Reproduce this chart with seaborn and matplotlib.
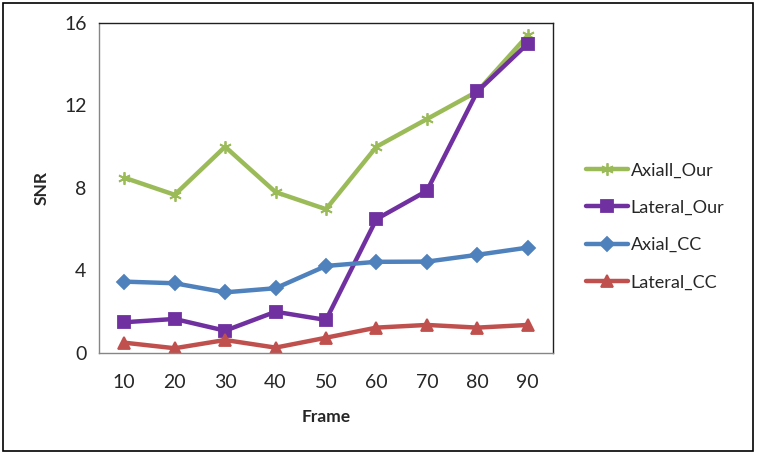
import matplotlib
matplotlib.use("Agg")
import matplotlib.pyplot as plt
import seaborn as sns
import numpy as np
import pandas as pd

sns.set_theme(style="white")
plt.rcParams["font.family"] = ["Lato", "DejaVu Sans"]

frames = [10, 20, 30, 40, 50, 60, 70, 80, 90]
axiall_our = [8.5, 7.67, 10.0, 7.8, 6.97, 10.0, 11.34, 12.68, 15.4]
lateral_our = [1.49, 1.65, 1.08, 2.0, 1.6, 6.49, 7.86, 12.68, 15.0]
axial_cc = [3.46, 3.38, 2.94, 3.14, 4.22, 4.42, 4.43, 4.76, 5.11]
lateral_cc = [0.5, 0.23, 0.63, 0.26, 0.74, 1.23, 1.36, 1.23, 1.36]

series = [
    ("Axiall_Our", axiall_our, "#9BBB59", (6, 2, 0), 9),
    ("Lateral_Our", lateral_our, "#7030A0", "s", 9),
    ("Axial_CC", axial_cc, "#4F81BD", "D", 7),
    ("Lateral_CC", lateral_cc, "#C0504D", "^", 9),
]

fig = plt.figure(figsize=(7.57, 4.54), dpi=100)
ax = fig.add_axes([0.1308, 0.2225, 0.5997, 0.7269])

pos = np.arange(len(frames))
for name, vals, col, mk, ms in series:
    df = pd.DataFrame({"pos": pos, "snr": vals})
    sns.lineplot(data=df, x="pos", y="snr", ax=ax, color=col, linewidth=3.2,
                 marker=mk, markersize=ms, markeredgecolor=col,
                 markeredgewidth=1.3, label=name)

ax.set_xlim(-0.5, len(frames) - 0.5)
ax.set_ylim(0, 16)
ax.set_yticks([0, 4, 8, 12, 16])
ax.set_xticks(np.arange(-0.5, len(frames), 1.0))
ax.set_xticklabels([])
ax.set_xticks(pos, minor=True)
ax.set_xticklabels([str(f) for f in frames], minor=True)
ax.tick_params(axis="x", which="major", direction="out", length=6, color="#868686", width=1)
ax.tick_params(axis="x", which="minor", length=0, pad=15, labelsize=14)
ax.tick_params(axis="y", direction="out", length=5, color="#868686", width=1, labelsize=14, pad=4)

for s in ["left", "bottom"]:
    ax.spines[s].set_color("#868686")
for s in ["top", "right"]:
    ax.spines[s].set_color("#202020")
for s in ax.spines.values():
    s.set_linewidth(1.0)

ax.set_xlabel("Frame", fontsize=12.5, fontweight="bold", labelpad=13)
ax.set_ylabel("SNR", fontsize=12.5, fontweight="bold", labelpad=10)

handles, labels = ax.get_legend_handles_labels()
ax.legend_.remove()
fig.legend(handles, labels, loc="upper left", bbox_to_anchor=(0.753, 0.678),
           frameon=False, fontsize=13, labelspacing=1.18, handlelength=2.3,
           handletextpad=0.15)

fig.patches.append(plt.Rectangle((0.004, 0.006), 0.991, 0.988, transform=fig.transFigure,
                                 fill=False, edgecolor="black", linewidth=1.2))

fig.savefig("out.png", dpi=100)
